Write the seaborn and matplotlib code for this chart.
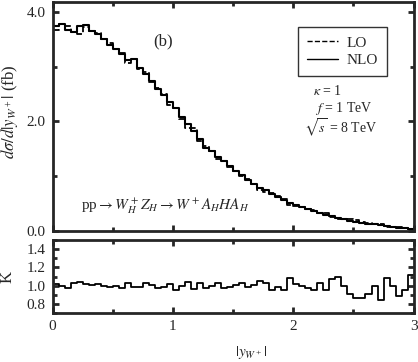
import numpy as np
import matplotlib
matplotlib.use("Agg")
import matplotlib.pyplot as plt
import seaborn as sns
import pandas as pd
from matplotlib.lines import Line2D
from matplotlib.ticker import MultipleLocator

# ---------------------------------------------------------------------
# data (bin width 0.05 in |y_W+|)
# ---------------------------------------------------------------------
bin_edges = np.linspace(0.0, 3.0, 61)

nlo = [3.75, 3.78, 3.68, 3.64, 3.74, 3.76, 3.66, 3.59, 3.50, 3.40,
       3.32, 3.24, 3.12, 3.14, 2.98, 2.86, 2.74, 2.60, 2.48, 2.36,
       2.24, 2.08, 1.96, 1.82, 1.68, 1.52, 1.46, 1.36, 1.27, 1.18,
       1.10, 1.02, 0.94, 0.86, 0.79, 0.74, 0.67, 0.62, 0.56, 0.51,
       0.47, 0.44, 0.40, 0.36, 0.33, 0.30, 0.27, 0.24, 0.21, 0.19,
       0.17, 0.15, 0.13, 0.12, 0.10, 0.09, 0.08, 0.06, 0.05, 0.04]

lo = [3.68, 3.78, 3.75, 3.64, 3.60, 3.73, 3.66, 3.62, 3.50, 3.43,
      3.32, 3.25, 3.07, 3.14, 2.95, 2.90, 2.73, 2.62, 2.51, 2.31,
      2.24, 2.04, 1.88, 1.89, 1.64, 1.56, 1.46, 1.32, 1.28, 1.16,
      1.09, 1.00, 0.95, 0.85, 0.75, 0.72, 0.70, 0.63, 0.59, 0.47,
      0.46, 0.44, 0.41, 0.38, 0.32, 0.32, 0.25, 0.22, 0.21, 0.21,
      0.20, 0.17, 0.14, 0.12, 0.12, 0.08, 0.08, 0.07, 0.05, 0.04]

k_factor = [1.02, 1.00, 0.98, 1.03, 1.04, 1.02, 1.01, 1.02, 1.00, 0.99,
            1.00, 0.97, 1.03, 0.99, 0.99, 1.03, 1.01, 0.97, 0.99, 1.02,
            0.95, 1.00, 1.04, 0.96, 1.03, 0.97, 1.00, 1.03, 0.97, 0.99,
            1.01, 1.03, 0.99, 1.01, 1.05, 1.03, 0.95, 0.99, 0.95, 1.08,
            1.02, 1.00, 0.98, 0.95, 1.03, 0.95, 1.07, 1.10, 1.00, 0.91,
            0.87, 0.87, 0.91, 1.00, 0.84, 1.08, 1.00, 0.89, 0.95, 1.12]


def step_frame(values):
    # left bin edges plus closing edge, last value repeated for steps-post
    return pd.DataFrame({"x": bin_edges, "y": list(values) + [values[-1]]})


sns.set_style("ticks")
plt.rcParams["font.family"] = ["Liberation Serif", "DejaVu Serif"]
plt.rcParams["mathtext.fontset"] = "stix"
plt.rcParams["font.size"] = 10

fig = plt.figure(figsize=(4.18, 3.62), dpi=100)
ax_top = fig.add_axes([0.1256, 0.362, 0.864, 0.632])
ax_k = fig.add_axes([0.1256, 0.135, 0.864, 0.202])

# ---------------------------------------------------------------------
# upper panel: distributions
# ---------------------------------------------------------------------
sns.lineplot(data=step_frame(lo), x="x", y="y", drawstyle="steps-post",
             color="black", linewidth=1.3, linestyle="--", ax=ax_top)
sns.lineplot(data=step_frame(nlo), x="x", y="y", drawstyle="steps-post",
             color="black", linewidth=1.5, ax=ax_top)
ax_top.set_xlim(0, 3)
ax_top.set_ylim(0, 4.18)
ax_top.set_yticks([0.0, 2.0, 4.0])
ax_top.set_yticklabels(["0.0", "2.0", "4.0"])
ax_top.yaxis.set_minor_locator(MultipleLocator(1.0))
ax_top.xaxis.set_major_locator(MultipleLocator(1.0))
ax_top.xaxis.set_minor_locator(MultipleLocator(0.5))
ax_top.tick_params(labelbottom=False)
ax_top.set_xlabel("")
ax_top.set_ylabel(r"$d\sigma/d|y_{W^+}|$ (fb)", fontsize=12)
ax_top.yaxis.set_label_coords(-0.09, 0.52)

ax_top.text(0.92, 3.47, "(b)", fontsize=12, ha="center", va="center")
ax_top.text(2.16, 2.56, r"$\kappa$ = 1", fontsize=10, ha="left", va="center")
ax_top.text(2.18, 2.24, r"$f$ = 1 TeV", fontsize=10, ha="left", va="center")
ax_top.text(2.09, 1.88, r"$\sqrt{s}$ = 8 TeV", fontsize=10, ha="left", va="center")
ax_top.text(0.24, 0.46, r"pp$\rightarrow W_H^+Z_H\rightarrow W^+A_HHA_H$",
            fontsize=11, ha="left", va="center")

handles = [Line2D([], [], color="black", linestyle="--", linewidth=1.0),
           Line2D([], [], color="black", linestyle="-", linewidth=1.0)]
leg = ax_top.legend(handles, ["LO", "NLO"], loc="upper right",
                    bbox_to_anchor=(0.927, 0.893), frameon=True,
                    fancybox=False, edgecolor="black", fontsize=11,
                    handlelength=2.0, borderpad=0.6, labelspacing=0.25,
                    handletextpad=0.6, borderaxespad=0.0)
leg.get_frame().set_linewidth(1.0)

# ---------------------------------------------------------------------
# lower panel: K factor
# ---------------------------------------------------------------------
sns.lineplot(data=step_frame(k_factor), x="x", y="y", drawstyle="steps-post",
             color="black", linewidth=1.3, ax=ax_k)
ax_k.set_xlim(0, 3)
ax_k.set_ylim(0.7, 1.5)
ax_k.set_yticks([0.8, 1.0, 1.2, 1.4])
ax_k.set_yticklabels(["0.8", "1.0", "1.2", "1.4"])
ax_k.yaxis.set_minor_locator(MultipleLocator(0.1))
ax_k.xaxis.set_major_locator(MultipleLocator(1.0))
ax_k.xaxis.set_minor_locator(MultipleLocator(0.5))
ax_k.set_ylabel("K", fontsize=12)
ax_k.yaxis.set_label_coords(-0.102, 0.5)
ax_k.set_xlabel(r"$|y_{W^+}|$", fontsize=11)
ax_k.xaxis.set_label_coords(0.55, -0.42)

for ax in (ax_top, ax_k):
    for side in ax.spines.values():
        side.set_linewidth(2.0)
        side.set_visible(True)
    ax.tick_params(which="both", direction="in", top=True, right=True,
                   width=2.0, labelsize=11, pad=5)
    ax.tick_params(which="major", length=4)
    ax.tick_params(which="minor", length=3)

fig.savefig("out.png", dpi=100)
